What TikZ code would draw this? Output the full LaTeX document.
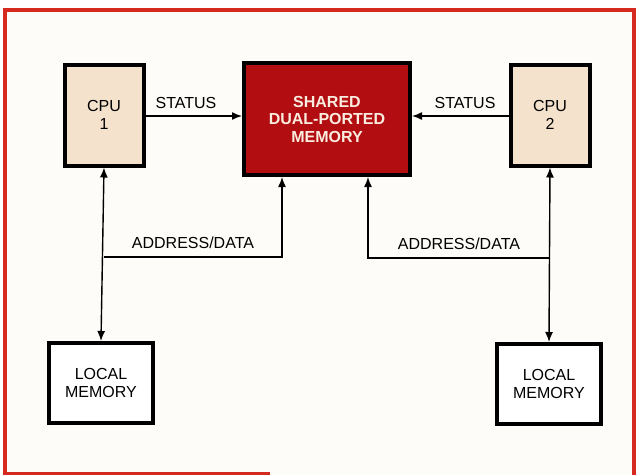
\documentclass[tikz,border=0pt]{standalone}
\usepackage{fontspec}
\setmainfont{Liberation Sans}
\usetikzlibrary{arrows.meta,positioning,calc}
\definecolor{cpubeige}{RGB}{244,226,204}
\definecolor{memred}{RGB}{178,14,18}
\definecolor{framered}{RGB}{214,42,32}
\definecolor{memtext}{RGB}{250,236,222}
\definecolor{paper}{RGB}{253,252,248}

\begin{document}
\begin{tikzpicture}[x=1pt,y=-1pt,>={Latex[length=10pt,width=8pt]},
unitbox/.style={draw=black,line width=4pt,align=center,inner sep=0pt,font=\fontsize{16}{17.5}\selectfont},
cpu/.style={unitbox,fill=cpubeige,minimum width=79pt,minimum height=101pt},
shared/.style={unitbox,fill=memred,text=memtext,font=\fontsize{16}{17.5}\selectfont\bfseries,minimum width=166pt,minimum height=112pt},
localmem/.style={unitbox,fill=white,minimum width=104pt,minimum height=80pt},
bus/.style={line width=1.4pt},
lbl/.style={font=\fontsize{16}{17.5}\selectfont,inner sep=0pt}]
\useasboundingbox (0,0) rectangle (638,475);
\fill[white] (0,0) rectangle (638,475);
\fill[paper] (5,10) rectangle (634,475);
\draw[framered,line width=4pt] (5,475) -- (5,10) -- (634,10) -- (634,475);
\draw[framered,line width=3pt] (5,473.5) -- (270,473.5);

\node[cpu] (cpu1) at (104,115) {CPU\\1};
\node[shared] (mem) at (327,119) {SHARED\\DUAL-PORTED\\MEMORY};
\node[cpu] (cpu2) at (550,115) {CPU\\2};
\node[localmem] (lmem1) at (101,383) {LOCAL\\MEMORY};
\node[localmem] (lmem2) at (549,384) {LOCAL\\MEMORY};

\coordinate (port1) at ([xshift=-45pt]mem.south);
\coordinate (port2) at ([xshift=41pt]mem.south);
\coordinate (tap1) at (cpu1.south |- 0,257);
\coordinate (tap2) at (cpu2.south |- 0,258);

\path[->,bus]
(cpu1.east |- 0,116) edge node[lbl,pos=0.42,above=7pt] {STATUS} (mem.west |- 0,116)
(cpu2.west |- 0,116) edge node[lbl,pos=0.45,above=7pt] {STATUS} (mem.east |- 0,116)
;
\path[<->,bus]
(cpu1.south) edge (lmem1.north)
(cpu2.south) edge (lmem2.north)
;
\draw[->,bus] (tap1) -| node[lbl,pos=0.25,above=8pt] {ADDRESS/DATA} (port1);
\draw[->,bus] (tap2) -| node[lbl,pos=0.25,above=8pt] {ADDRESS/DATA} (port2);
\end{tikzpicture}
\end{document}
